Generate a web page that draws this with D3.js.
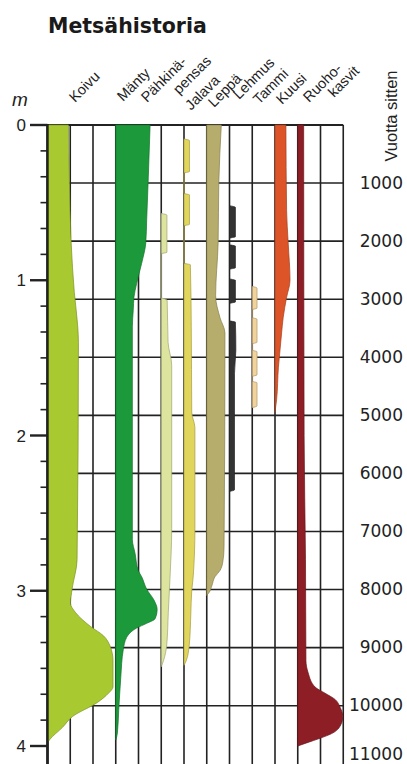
<!DOCTYPE html>
<html>
<head>
<meta charset="utf-8">
<script src="https://cdn.jsdelivr.net/npm/d3@7"></script>
<style>
  body { margin: 0; background: #fff; }
  svg { display: block; }
</style>
</head>
<body>
<svg id="chart" width="407" height="764"></svg>
<script>
// pollen diagram, values are % (one grid column = 10 %), depth in m
var taxa = ["Koivu", "Mänty", "Pähkinäpensas", "Jalava", "Leppä", "Lehmus", "Tammi", "Kuusi", "Ruohokasvit"];
var taxonLabels = [["Koivu"], ["Mänty"], ["Pähkinä-", "pensas"], ["Jalava"], ["Leppä"], ["Lehmus"], ["Tammi"], ["Kuusi"], ["Ruoho-", "kasvit"]];
var taxonColumn = [0, 3, 5, 6, 7, 8, 9, 10, 11];   // grid column where each curve starts
var taxonColors = ["#a8c930", "#1c9a3b", "#dde49e", "#e1d55c", "#b6ad6c", "#333333", "#f2d39b", "#dd5428", "#8d1e25"];

var koivu = [[0, 9.2], [0.34, 9.6], [0.76, 10.4], [1.08, 11.8], [1.3, 13.3], [1.4, 13.6], [2.8, 13.0], [2.99, 10.8],
  [3.08, 10.1], [3.14, 12.3], [3.23, 18.9], [3.29, 24.6], [3.36, 27.6], [3.45, 28.8], [3.62, 28.8], [3.66, 26.8],
  [3.72, 21.9], [3.81, 11.0], [3.88, 6.6], [3.96, 0.9], [3.98, 0]];
var manty = [[0, 15.1], [0.34, 14.3], [0.61, 13.6], [0.76, 13.2], [0.89, 11.4], [1.02, 9.2], [1.11, 8.0], [1.19, 7.7],
  [1.3, 7.3], [2.67, 7.3], [2.76, 8.5], [2.87, 9.9], [2.91, 11.4], [2.99, 13.6], [3.06, 16.8], [3.12, 18.2],
  [3.18, 17.3], [3.21, 13.6], [3.24, 9.2], [3.3, 4.8], [3.38, 3.3], [3.56, 2.2], [3.77, 1.3], [3.92, 0.7], [3.96, 0]];
var pahkina = [[0.57, 0], [0.58, 2.5], [0.82, 2.5], [0.83, 0],
  [1.11, 0], [1.13, 2.6], [1.4, 3.0], [1.55, 4.6], [2.6, 4.6], [2.93, 3.8], [3.14, 3.1], [3.35, 2.4], [3.45, 1.0], [3.49, 0]];
var jalava = [[0.09, 0], [0.1, 2.4], [0.3, 2.4], [0.31, 0],
  [0.44, 0], [0.45, 2.4], [0.64, 2.4], [0.65, 0],
  [0.89, 0], [0.9, 2.8], [1.3, 3.2], [1.85, 3.4], [1.95, 4.8], [2.6, 4.8], [2.9, 4.1], [3.0, 3.4], [3.15, 3.0],
  [3.35, 2.3], [3.45, 1.0], [3.48, 0]];
var leppa = [[0, 6.4], [0.37, 5.3], [0.76, 5.0], [1.1, 3.9], [1.24, 5.8], [1.34, 8.0], [2.72, 7.6], [2.82, 7.0],
  [2.87, 5.8], [2.91, 3.6], [2.97, 2.2], [3.01, 1.1], [3.03, 0]];
var lehmus = [[0.52, 0], [0.53, 2.6], [0.72, 2.6], [0.73, 0],
  [0.77, 0], [0.78, 2.6], [0.92, 2.6], [0.93, 0],
  [0.99, 0], [1.0, 2.6], [1.14, 2.6], [1.15, 0],
  [1.26, 0], [1.27, 2.6], [1.45, 2.8], [1.6, 2.2], [2.35, 2.2], [2.36, 0]];
var tammi = [[1.04, 0], [1.05, 2.1], [1.18, 2.1], [1.19, 0],
  [1.24, 0], [1.25, 2.1], [1.4, 2.1], [1.41, 0],
  [1.45, 0], [1.46, 2.1], [1.61, 2.1], [1.62, 0],
  [1.65, 0], [1.66, 2.1], [1.81, 2.1], [1.82, 0]];
var kuusi = [[0, 4.8], [0.55, 5.1], [0.76, 5.8], [1.0, 6.6], [1.11, 5.1], [1.24, 3.6], [1.34, 2.9], [1.45, 2.2],
  [1.56, 1.5], [1.77, 0.7], [1.85, 0]];
var ruoho = [[0, 2.6], [2.0, 2.8], [2.8, 3.4], [3.45, 3.6], [3.53, 4.6], [3.62, 7.6], [3.66, 12.0], [3.7, 16.4],
  [3.75, 18.6], [3.81, 19.8], [3.88, 18.3], [3.92, 14.9], [3.95, 9.8], [3.98, 3.9], [4.0, 0]];
var series = [koivu, manty, pahkina, jalava, leppa, lehmus, tammi, kuusi, ruoho];

var depthTicks = [0, 1, 2, 3, 4];
var yearTicks = [1000, 2000, 3000, 4000, 5000, 6000, 7000, 8000, 9000, 10000, 11000];

/*** scales ***/
var svg = d3.select("#chart");
var x = d3.scaleLinear().domain([0, 130]).range([47.5, 343.25]);
var yDepth = d3.scaleLinear().domain([0, 4]).range([125, 746]);
var yYear = d3.scaleLinear().domain([0, 10000]).range([125, 705.7]);
var gridBottom = 764;

/*** grid ***/
var grid = svg.append("g").attr("stroke", "#222").attr("stroke-width", 1.6);
grid.selectAll("line.v").data(d3.range(0, 14)).enter().append("line")
  .attr("class", "v")
  .attr("x1", function(i) { return x(i * 10); })
  .attr("x2", function(i) { return x(i * 10); })
  .attr("y1", yYear(0)).attr("y2", gridBottom)
  .attr("stroke-width", function(i) { return i == 0 ? 2.4 : 1.6; });
grid.selectAll("line.h").data(d3.range(0, 11)).enter().append("line")
  .attr("class", "h")
  .attr("x1", x(0)).attr("x2", x(130))
  .attr("y1", function(k) { return yYear(k * 1000); })
  .attr("y2", function(k) { return yYear(k * 1000); })
  .attr("stroke-width", function(k) { return k == 0 ? 2.2 : 1.6; });

/*** curves ***/
series.forEach(function(data, i) {
  var base = taxonColumn[i] * 10;
  var area = d3.area()
    .y(function(d) { return yDepth(d[0]); })
    .x0(x(base))
    .x1(function(d) { return x(base + d[1]); })
    .curve(d3.curveMonotoneY);
  svg.append("path")
    .datum(data)
    .attr("d", area)
    .attr("fill", taxonColors[i])
    .attr("stroke", d3.color(taxonColors[i]).darker(0.9))
    .attr("stroke-width", 0.7);
});

// left frame on top of the fills
svg.append("line")
  .attr("x1", x(0)).attr("x2", x(0))
  .attr("y1", yYear(0) - 1).attr("y2", gridBottom)
  .attr("stroke", "#222").attr("stroke-width", 2.4);

/*** depth axis ***/
var minor = d3.range(1, 24).filter(function(i) { return i % 6 != 0; }).map(function(i) { return i / 6; });
svg.append("g").selectAll("line").data(minor).enter().append("line")
  .attr("x1", x(0) - 7).attr("x2", x(0))
  .attr("y1", function(d) { return yDepth(d); })
  .attr("y2", function(d) { return yDepth(d); })
  .attr("stroke", "#222").attr("stroke-width", 1.6);
var major = svg.append("g").selectAll("g").data(depthTicks).enter().append("g")
  .attr("transform", function(d) { return "translate(0," + yDepth(d) + ")"; });
major.append("line")
  .attr("x1", 30).attr("x2", x(0))
  .attr("stroke", "#222").attr("stroke-width", 2.4);
major.append("text")
  .attr("x", 26).attr("dy", "0.36em")
  .attr("text-anchor", "end")
  .style("font", "17px 'Liberation Sans', Arial, sans-serif")
  .attr("fill", "#222")
  .text(function(d) { return d; });
svg.append("text")
  .attr("x", 12).attr("y", 106)
  .style("font", "italic 19px 'Liberation Sans', Arial, sans-serif")
  .attr("fill", "#222")
  .text("m");

/*** year labels ***/
svg.append("g").selectAll("text").data(yearTicks).enter().append("text")
  .attr("x", 403)
  .attr("y", function(d) { return Math.min(yYear(d), 754); })
  .attr("dy", "0.33em")
  .attr("text-anchor", "end")
  .style("font", "17px 'DejaVu Sans', sans-serif")
  .attr("fill", "#222")
  .text(function(d) { return d; });
svg.append("text")
  .attr("transform", "translate(397,116) rotate(-90)")
  .attr("text-anchor", "middle")
  .style("font", "16.5px 'Liberation Sans', Arial, sans-serif")
  .attr("fill", "#222")
  .text("Vuotta sitten");

/*** title and taxon labels ***/
svg.append("text")
  .attr("x", 48).attr("y", 33)
  .style("font", "bold 20.5px 'DejaVu Sans', sans-serif")
  .attr("fill", "#1a1a1a")
  .text("Metsähistoria");

// baseline start of each label line (rotated)
var labelAnchors = [[[75, 103]], [[123, 102]], [[147, 103], [179, 95]], [[191, 111]], [[214, 108]],
  [[239, 100]], [[259, 105]], [[282, 105]], [[309, 103], [334, 98]]];
taxonLabels.forEach(function(lines, i) {
  lines.forEach(function(t, j) {
    var p = labelAnchors[i][j];
    svg.append("text")
      .attr("transform", "translate(" + p[0] + "," + p[1] + ") rotate(-45)")
      .style("font", "14.5px 'Liberation Sans', Arial, sans-serif")
      .attr("fill", "#222")
      .text(t);
  });
});
</script>
</body>
</html>
